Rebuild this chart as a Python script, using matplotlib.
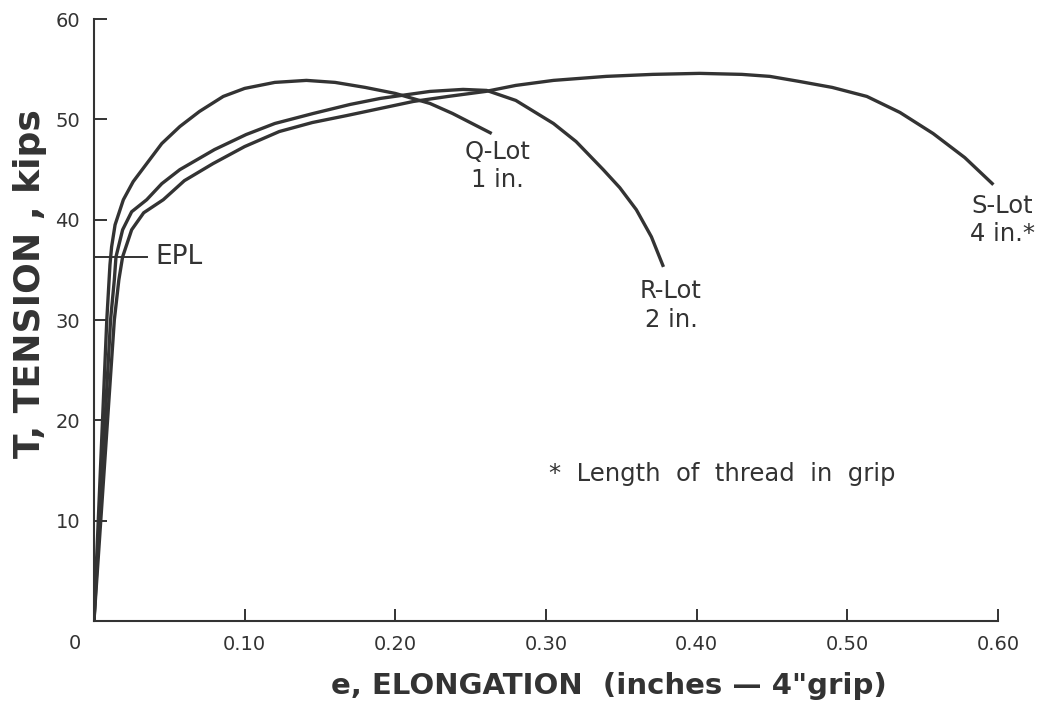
import matplotlib.pyplot as plt

# load-elongation readings, three thread lots
q_e = [0, 0.0085, 0.0106, 0.0117, 0.014, 0.0195, 0.026, 0.035, 0.045, 0.057, 0.07,
       0.0858, 0.1, 0.12, 0.141, 0.16, 0.18, 0.2, 0.223, 0.238, 0.264]
q_t = [0, 30, 35.5, 37.3, 39.5, 42.0, 43.8, 45.6, 47.6, 49.3, 50.8,
       52.3, 53.1, 53.7, 53.9, 53.7, 53.2, 52.6, 51.6, 50.6, 48.6]

r_e = [0, 0.011, 0.0135, 0.0146, 0.019, 0.025, 0.035, 0.045, 0.057, 0.08, 0.101,
       0.12, 0.1455, 0.17, 0.19, 0.223, 0.245, 0.2606, 0.28, 0.305, 0.32, 0.338,
       0.349, 0.36, 0.37, 0.378]
r_t = [0, 30, 34, 36.3, 39, 40.8, 42.0, 43.6, 45.0, 47.0, 48.5,
       49.6, 50.6, 51.5, 52.1, 52.8, 53.0, 52.9, 51.9, 49.6, 47.8, 45.0,
       43.2, 41.0, 38.3, 35.3]

s_e = [0, 0.0135, 0.0165, 0.019, 0.025, 0.033, 0.046, 0.06, 0.079, 0.1, 0.123,
       0.145, 0.168, 0.19, 0.212, 0.235, 0.26, 0.28, 0.305, 0.34, 0.371, 0.402,
       0.43, 0.4486, 0.468, 0.49, 0.513, 0.535, 0.557, 0.578, 0.597]
s_t = [0, 30, 34, 36.3, 39, 40.7, 42.0, 43.9, 45.6, 47.3, 48.8,
       49.7, 50.4, 51.1, 51.8, 52.3, 52.8, 53.4, 53.9, 54.3, 54.5, 54.6,
       54.5, 54.3, 53.8, 53.2, 52.3, 50.7, 48.6, 46.2, 43.5]

epl = 36.3
x_ticks = [0.1, 0.2, 0.3, 0.4, 0.5, 0.6]
x_labels = ['0.10', '0.20', '0.30', '0.40', '0.50', '0.60']
y_ticks = [10, 20, 30, 40, 50, 60]

ink = '#333333'
plt.rcParams['font.family'] = 'DejaVu Sans'

fig = plt.figure(figsize=(10.56, 7.12), dpi=100)
ax = fig.add_axes([0.089, 0.128, 0.856, 0.845])

for e, t in [(q_e, q_t), (r_e, r_t), (s_e, s_t)]:
    ax.plot(e, t, color=ink, lw=2.4, solid_capstyle='butt')

# elastic proportional limit
ax.plot([0, 0.035], [epl, epl], color=ink, lw=1.4)
ax.text(0.041, epl, 'EPL', fontsize=19, color=ink, va='center', ha='left')

ax.text(0.268, 48.0, 'Q-Lot\n1 in.', fontsize=17.5, color=ink, ha='center',
        va='top', linespacing=1.25)
ax.text(0.383, 34.1, 'R-Lot\n2 in.', fontsize=17.5, color=ink, ha='center',
        va='top', linespacing=1.25)
ax.text(0.603, 42.6, 'S-Lot\n4 in.*', fontsize=17.5, color=ink, ha='center',
        va='top', linespacing=1.25)
ax.text(0.302, 14.6, '*  Length  of  thread  in  grip', fontsize=17.5,
        color=ink, ha='left', va='center')

ax.set_xlim(0, 0.6)
ax.set_ylim(0, 60)
for side in ['top', 'right']:
    ax.spines[side].set_visible(False)
for side in ['left', 'bottom']:
    ax.spines[side].set_color(ink)
    ax.spines[side].set_linewidth(1.5)

ax.set_xticks(x_ticks)
ax.set_xticklabels(x_labels)
ax.set_yticks(y_ticks)
ax.tick_params(direction='in', length=9, width=1.4, color=ink,
               labelcolor=ink, labelsize=14, pad=10)
ax.text(-0.013, -2.3, '0', fontsize=14, color=ink, ha='center', va='center')

ax.set_xlabel('e, ELONGATION  (inches \u2014 4"grip)', fontsize=21,
              fontweight='bold', color=ink, labelpad=8)
ax.xaxis.set_label_coords(0.57, -0.085)
ax.set_ylabel('T, TENSION , kips', fontsize=26, fontweight='bold', color=ink)
ax.yaxis.set_label_coords(-0.052, 0.56)

fig.savefig('out.png', dpi=100, facecolor='white')
